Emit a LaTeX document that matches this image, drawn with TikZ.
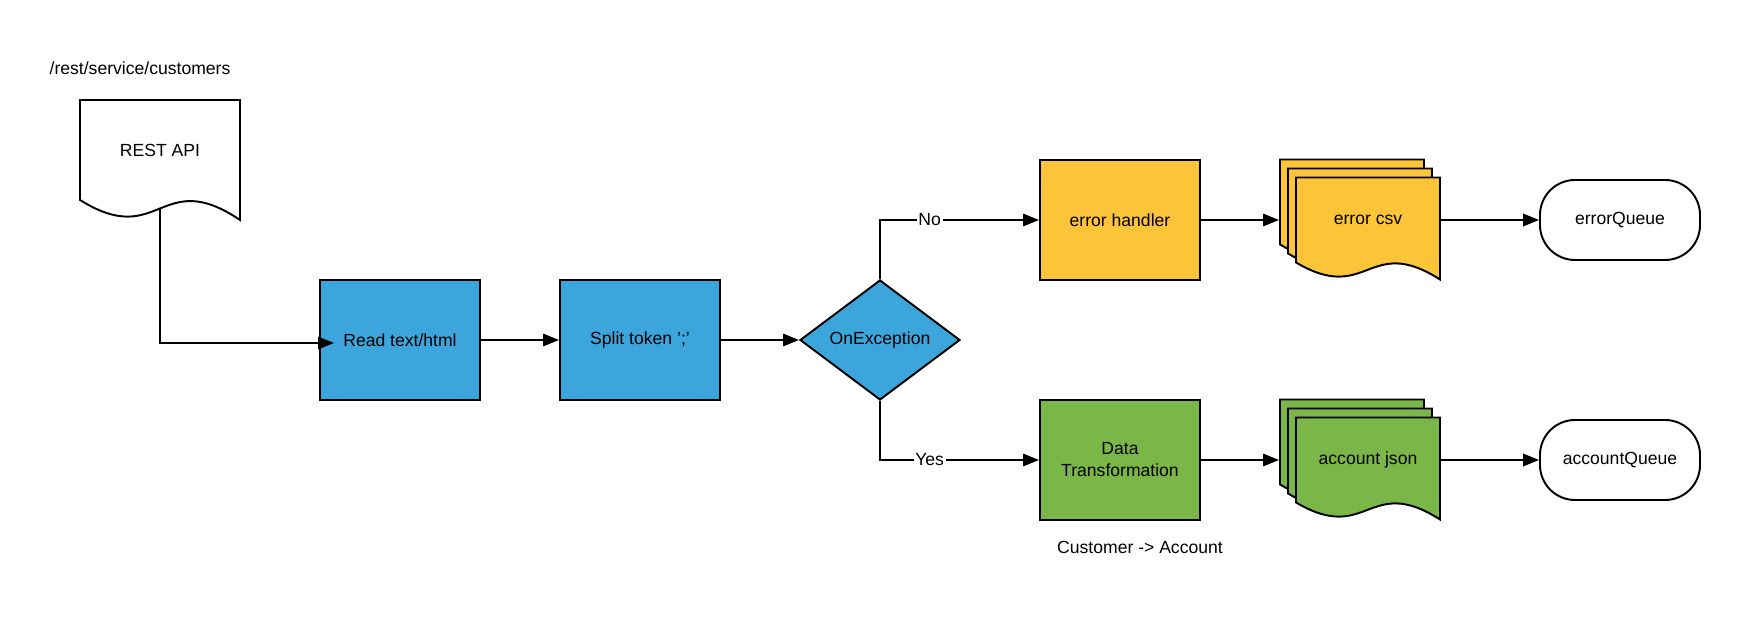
\documentclass[tikz,border=0pt]{standalone}
\usepackage{fontspec}
\setmainfont{Liberation Sans}
\usetikzlibrary{arrows.meta,shapes.geometric}

\definecolor{stepblue}{RGB}{59,165,220}
\definecolor{erryellow}{RGB}{252,196,56}
\definecolor{okgreen}{RGB}{122,182,72}

% wavy page: top-left x, top-left y, width, straight height, fill
\newcommand{\wavedoc}[5]{%
  \filldraw[fill=#5] ({#1},{#2-#4}) -- ({#1},{#2}) -- ({#1+#3},{#2}) -- ({#1+#3},{#2-1.2*#4})
    .. controls ({#1+0.5*#3},{#2-0.66*#4}) and ({#1+0.5*#3},{#2-1.5*#4}) .. ({#1},{#2-#4}) -- cycle;}

\begin{document}
\begin{tikzpicture}[line width=1.1pt, font=\fontsize{10}{12.5}\selectfont,
    stepbox/.style = {draw, rectangle, minimum width=3.2cm, minimum height=2.4cm, align=center},
    decision/.style = {draw, diamond, fill=stepblue, minimum width=3.2cm, minimum height=2.4cm, inner sep=0pt},
    docbox/.style = {rectangle, minimum width=2.88cm, minimum height=1.7cm},
    queue/.style = {draw, rectangle, rounded corners=0.7cm, minimum width=3.2cm, minimum height=1.6cm},
    flow/.style = {-{Triangle[length=9pt,width=7pt]}},
    branch/.style = {fill=white, inner sep=1pt}]
    \useasboundingbox (0,0) rectangle (34.8,12.8);

    % pages behind the text
    \wavedoc{1.6}{10.8}{3.2}{2.0}{white}
    \wavedoc{25.6}{9.61}{2.88}{1.7}{erryellow}
    \wavedoc{25.76}{9.43}{2.88}{1.7}{erryellow}
    \wavedoc{25.92}{9.25}{2.88}{1.7}{erryellow}
    \wavedoc{25.6}{4.81}{2.88}{1.7}{okgreen}
    \wavedoc{25.76}{4.63}{2.88}{1.7}{okgreen}
    \wavedoc{25.92}{4.45}{2.88}{1.7}{okgreen}

    \node (path) at (2.8, 11.44) {/rest/service/customers};
    \node[rectangle, minimum width=3.2cm, minimum height=2.0cm] (rest) at (3.2, 9.8) {REST API};
    \node[stepbox, fill=stepblue] (read) at (8.0, 6.0) {Read text/html};
    \node[stepbox, fill=stepblue] (split) at (12.8, 6.0) {Split token ';'};
    \node[decision] (onex) at (17.6, 6.0) {OnException};
    \node[stepbox, fill=erryellow] (handler) at (22.4, 8.4) {error handler};
    \node[stepbox, fill=okgreen] (transform) at (22.4, 3.6) {Data\\Transformation};
    \node[docbox] (errcsv) at (27.36, 8.4) {error csv};
    \node[docbox] (accjson) at (27.36, 3.6) {account json};
    \node[queue] (errq) at (32.4, 8.4) {errorQueue};
    \node[queue] (accq) at (32.4, 3.6) {accountQueue};
    \node (mapping) at (22.8, 1.86) {Customer -> Account};

    % connectors
    \draw[flow, shorten <=0.17cm, shorten >=-0.3cm] (rest.south) |- ([yshift=-0.06cm]read.west);
    \draw[flow] (read) -- (split);
    \draw[flow] (split) -- (onex);
    \draw[flow] (onex.north) |- node[branch, pos=0.656] {No} (handler);
    \draw[flow] (onex.south) |- node[branch, pos=0.656] {Yes} (transform);
    \draw[flow, shorten >=0.32cm] (handler) -- (errcsv);
    \draw[flow, shorten >=0.32cm] (transform) -- (accjson);
    \draw[flow] (errcsv) -- (errq);
    \draw[flow] (accjson) -- (accq);
\end{tikzpicture}
\end{document}
